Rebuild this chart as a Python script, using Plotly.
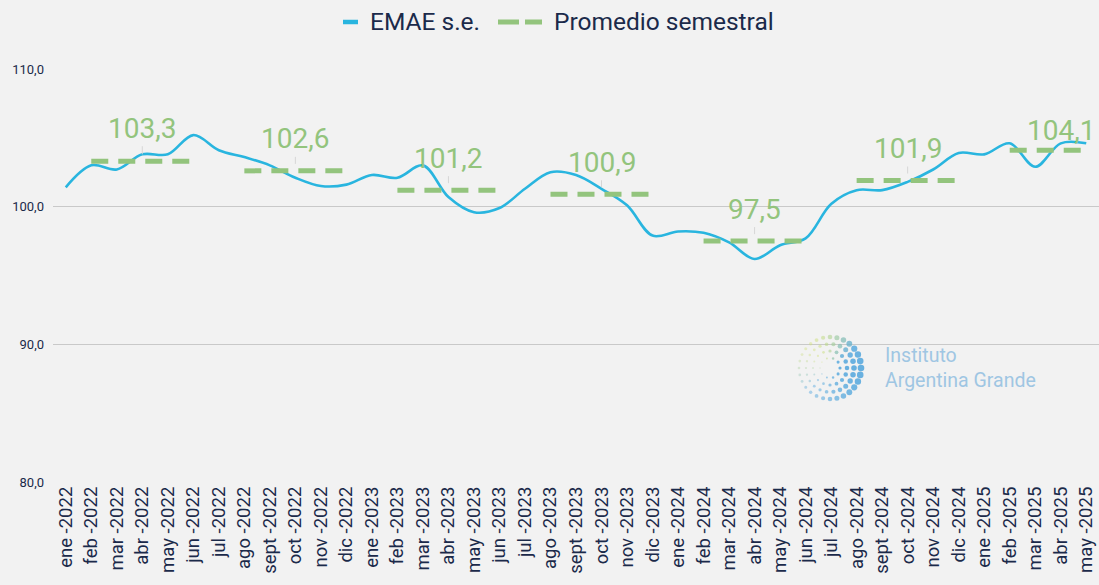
import math
import plotly.graph_objects as go

# ---- data ----
meses = ["ene", "feb", "mar", "abr", "may", "jun", "jul", "ago", "sept", "oct", "nov", "dic"]
anios = [2022, 2023, 2024, 2025]
categorias = [f"{m} -{a}" for a in anios for m in meses][:41]  # ene-2022 .. may-2025

emae = [101.4, 103.0, 102.7, 103.8, 103.8, 105.2,
        104.1, 103.6, 103.0, 102.1, 101.5, 101.6,
        102.3, 102.1, 103.0, 100.7, 99.6, 99.9,
        101.3, 102.5, 102.3, 101.3, 100.1, 97.9,
        98.2, 98.1, 97.4, 96.2, 97.2, 97.7,
        100.2, 101.2, 101.2, 101.8, 102.7, 103.9,
        103.8, 104.6, 102.9, 104.6, 104.6]

promedios = [103.3, 102.6, 101.2, 100.9, 97.5, 101.9, 104.1]

promedio_serie = [None, 103.3, 103.3, 103.3, 103.3, 103.3,
                  None, 102.6, 102.6, 102.6, 102.6, 102.6,
                  None, 101.2, 101.2, 101.2, 101.2, 101.2,
                  None, 100.9, 100.9, 100.9, 100.9, 100.9,
                  None, 97.5, 97.5, 97.5, 97.5, 97.5,
                  None, 101.9, 101.9, 101.9, 101.9, 101.9,
                  None, 104.1, 104.1, 104.1, 104.1]

label_idx = [3, 9, 15, 21, 27, 33, 39]          # abr / oct of each semester
label_offset = [-33, -32, -32, -32, -32, -32, -20]

# ---- style ----
W, H = 1099, 585
ML, MR, MT, MB = 53, 0, 69, 103
BG = "#F2F2F2"
CYAN = "#29B5DF"
GREEN = "#93C47D"
NAVY = "#1B2A4A"
FONT = "Roboto"

pw = W - ML - MR
ph = H - MT - MB


def px2paper(px, py):
    return (px - ML) / pw, (H - MB - py) / ph


fig = go.Figure()
fig.add_trace(go.Scatter(
    x=categorias, y=emae, name="EMAE s.e.", mode="lines", showlegend=False,
    line=dict(color=CYAN, width=2.6, shape="spline", smoothing=1.0),
))
fig.add_trace(go.Scatter(
    x=categorias, y=promedio_serie, name="Promedio semestral", mode="lines",
    connectgaps=False, showlegend=False,
    line=dict(color=GREEN, width=5, dash="17px,10px"),
))

annotations = []
for v, i, off in zip(promedios, label_idx, label_offset):
    annotations.append(dict(
        x=categorias[i], y=v, xref="x", yref="y",
        text=f"{v:.1f}".replace(".", ","),
        showarrow=True, arrowhead=0, arrowwidth=1, arrowcolor="#D6D6D6",
        ax=0, ay=off, standoff=7,
        font=dict(family=FONT, size=28, color=GREEN),
    ))

shapes = []

# ---- custom legend (top centre) ----
ly = 22
for txt, xpx in [("EMAE s.e.", 368), ("Promedio semestral", 552)]:
    xx, yy = px2paper(xpx, ly)
    annotations.append(dict(
        x=xx, y=yy, xref="paper", yref="paper", text=txt, showarrow=False,
        xanchor="left", yanchor="middle",
        font=dict(family=FONT, size=24.5, color=NAVY),
    ))
for (x0p, x1p, col, wd) in [(343, 358, CYAN, 4.5), (498, 519, GREEN, 5), (525, 542, GREEN, 5)]:
    a0, b0 = px2paper(x0p, ly)
    a1, b1 = px2paper(x1p, ly)
    shapes.append(dict(type="line", xref="paper", yref="paper", x0=a0, y0=b0, x1=a1, y1=b1,
                       line=dict(color=col, width=wd)))

# ---- watermark logo (decorative) ----
xx, yy = px2paper(883, 368)
annotations.append(dict(
    x=xx, y=yy, xref="paper", yref="paper", text="Instituto<br>Argentina Grande",
    showarrow=False, xanchor="left", yanchor="middle", align="left",
    font=dict(family=FONT, size=19.5, color="#9FC6E3"),
))

cx, cy = 830, 368
blue = (80, 165, 220)
lime = (210, 226, 120)
for r, n, base in [(31, 28, 3.3), (24, 22, 2.8), (17, 16, 2.3), (10, 10, 1.6)]:
    for k in range(n):
        a = 2 * math.pi * k / n
        t = (math.cos(a) + 1) / 2                    # strongest on the right
        s = base * (0.4 + 0.6 * t)
        mix = max(0.0, math.cos(a - 2.3))             # yellow-green top-left
        col = tuple(int(blue[j] * (1 - mix) + lime[j] * mix) for j in range(3))
        px = cx + r * math.cos(a)
        py = cy - r * math.sin(a)
        x0, y0 = px2paper(px - s, py + s)
        x1, y1 = px2paper(px + s, py - s)
        shapes.append(dict(type="circle", xref="paper", yref="paper",
                           x0=x0, y0=y0, x1=x1, y1=y1, line=dict(width=0),
                           fillcolor=f"rgba({col[0]},{col[1]},{col[2]},{0.35 + 0.5 * t:.2f})",
                           layer="above"))

fig.update_layout(
    width=W, height=H,
    margin=dict(l=ML, r=MR, t=MT, b=MB),
    paper_bgcolor=BG, plot_bgcolor=BG,
    separators=",.",
    font=dict(family=FONT, color=NAVY),
    showlegend=False,
    annotations=annotations,
    shapes=shapes,
    xaxis=dict(type="category", range=[-0.5, len(categorias) - 0.5], showgrid=False,
               tickangle=-90, tickfont=dict(family=FONT, size=18.5, color=NAVY),
               showline=False, zeroline=False, ticks=""),
    yaxis=dict(range=[80, 110], dtick=10, tick0=80, tickformat=".1f", showgrid=True,
               gridcolor="#C9C9C9", gridwidth=1, zeroline=False, showline=False,
               tickfont=dict(family=FONT, size=13, color=NAVY), ticks="",
               ticklabelstandoff=8),
)

fig.write_html(
    "out.html",
    config={"displayModeBar": False},
    post_script="document.body.style.margin='0';document.body.style.overflow='hidden';"
                "document.body.style.background='#F2F2F2';",
)
